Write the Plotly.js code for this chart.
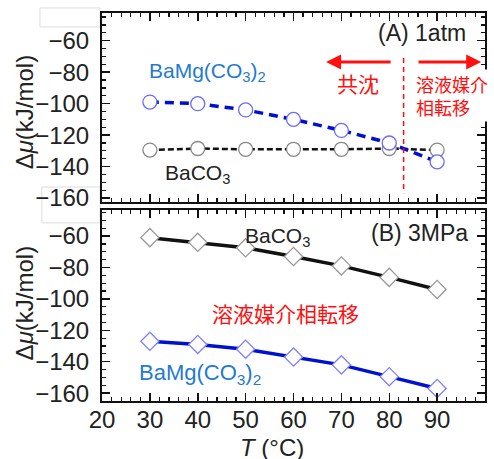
<!DOCTYPE html>
<html>
<head>
<meta charset="utf-8">
<script src="https://cdn.plot.ly/plotly-3.0.1.min.js"></script>
<style>html,body{margin:0;padding:0;background:#fff;}#chart{width:494px;height:459px;}</style>
</head>
<body>
<div id="chart"></div>
<script>
// Temperatures (°C)
var temps = [30, 40, 50, 60, 70, 80, 90];
// (A) 1 atm
var atmBaMg = [-99, -100, -104, -110, -117, -125, -137];
var atmBaCO3 = [-129.5, -128.5, -129, -129, -129, -128.5, -129.5];
// (B) 3 MPa
var mpaBaCO3 = [-61, -64, -67.5, -73, -79, -86.3, -94];
var mpaBaMg = [-127, -129, -132, -137, -142, -149.5, -157];
// Labels
var xTickVals = [20, 30, 40, 50, 60, 70, 80, 90, 100];
var yTickVals = [-60, -80, -100, -120, -140, -160];
var boundaryT = 83;

var FONT = "Liberation Sans, Arial, sans-serif";
var JFONT = "Noto Sans CJK JP, sans-serif";

var traces = [
  {x: temps, y: atmBaCO3, xaxis: 'x2', yaxis: 'y2', mode: 'lines+markers',
   line: {color: '#111', width: 2.5, dash: '6px,3px'},
   marker: {symbol: 'circle', size: 14, color: '#fff', line: {color: '#888', width: 1.3}}},
  {x: temps, y: atmBaMg, xaxis: 'x2', yaxis: 'y2', mode: 'lines+markers',
   line: {color: '#0010d0', width: 3.5, dash: '9px,6px'},
   marker: {symbol: 'circle', size: 14, color: '#fff', line: {color: '#6a6aff', width: 1.3}}},
  {x: temps, y: mpaBaCO3, xaxis: 'x', yaxis: 'y', mode: 'lines+markers',
   line: {color: '#111', width: 3.5},
   marker: {symbol: 'diamond', size: 14, color: '#fff', line: {color: '#999', width: 1.3}}},
  {x: temps, y: mpaBaMg, xaxis: 'x', yaxis: 'y', mode: 'lines+markers',
   line: {color: '#0010d0', width: 3.5},
   marker: {symbol: 'diamond', size: 14, color: '#fff', line: {color: '#8080ff', width: 1.3}}}
];

function xAx(extra) {
  var a = {range: [20, 100], tickvals: xTickVals, ticks: 'inside', ticklen: 8, tickwidth: 1.5,
    tickcolor: '#111', showline: true, linecolor: '#111', linewidth: 2, mirror: 'ticks',
    showgrid: false, zeroline: false,
    minor: {dtick: 2, tick0: 0, ticks: 'inside', ticklen: 4, tickwidth: 1.2, tickcolor: '#111', showgrid: false},
    tickfont: {family: FONT, size: 24, color: '#222'}, ticklabelstandoff: -4};
  for (var k in extra) a[k] = extra[k];
  return a;
}
function yAx(extra) {
  var a = {tickvals: yTickVals, ticks: 'inside', ticklen: 8, tickwidth: 1.5,
    tickcolor: '#111', showline: true, linecolor: '#111', linewidth: 2, mirror: 'ticks',
    showgrid: false, zeroline: false,
    minor: {dtick: 5, tick0: 0, ticks: 'inside', ticklen: 4, tickwidth: 1.2, tickcolor: '#111', showgrid: false},
    tickfont: {family: FONT, size: 24, color: '#222'}, ticklabelstandoff: 6};
  for (var k in extra) a[k] = extra[k];
  return a;
}

var red = '#ff1010';
var blueTxt = '#1f7bd0';

var layout = {
  width: 494, height: 459,
  margin: {l: 102, r: 9, t: 13, b: 58},
  paper_bgcolor: '#fff', plot_bgcolor: '#fff',
  showlegend: false,
  font: {family: FONT, color: '#222'},
  xaxis: xAx({anchor: 'y'}),
  xaxis2: xAx({anchor: 'y2', matches: 'x', showticklabels: false}),
  yaxis: yAx({domain: [0, 0.4923], range: [-165, -43.4], anchor: 'x'}),
  yaxis2: yAx({domain: [0.5129, 1], range: [-162.5, -42.4], anchor: 'x2'}),
  shapes: [
    {type: 'line', xref: 'x2', yref: 'y2', x0: boundaryT, x1: boundaryT, y0: -71, y1: -157,
     line: {color: red, width: 1.5, dash: '5px,4px'}},
    {type: 'rect', xref: 'paper', yref: 'paper', x0: -0.162, x1: -0.005, y0: 0.964, y1: 1.013,
     line: {color: '#dcdcdc', width: 1}, layer: 'below'},
    {type: 'rect', xref: 'paper', yref: 'paper', x0: -0.157, x1: -0.005, y0: 0.459, y1: 0.5515,
     line: {color: '#dcdcdc', width: 1}, layer: 'below'}
  ],
  annotations: [
    {xref: 'paper', yref: 'paper', x: -0.2, y: 0.745, xanchor: 'center', yanchor: 'middle',
     text: 'Δ<i>μ</i>(kJ/mol)', textangle: -90,
     showarrow: false, font: {family: FONT, size: 24, color: '#222'}},
    {xref: 'paper', yref: 'paper', x: -0.2, y: 0.2526, xanchor: 'center', yanchor: 'middle',
     text: 'Δ<i>μ</i>(kJ/mol)', textangle: -90,
     showarrow: false, font: {family: FONT, size: 24, color: '#222'}},
    {xref: 'paper', yref: 'paper', x: 0.444, y: -0.119, xanchor: 'center', yanchor: 'middle',
     text: '<i>T</i> (°C)', showarrow: false, font: {family: FONT, size: 24, color: '#222'}},
    {xref: 'x2', yref: 'y2', x: 29.4, y: -79.9, xanchor: 'left', yanchor: 'middle', text: 'BaMg(CO<sub>3</sub>)<sub>2</sub>',
     showarrow: false, font: {family: FONT, size: 21, color: blueTxt}},
    {xref: 'x2', yref: 'y2', x: 32.7, y: -144.6, xanchor: 'left', yanchor: 'middle', text: 'BaCO<sub>3</sub>',
     showarrow: false, font: {family: FONT, size: 21, color: '#222'}},
    {xref: 'x2', yref: 'y2', x: 96.4, y: -55.1, xanchor: 'right', yanchor: 'middle', text: '(A) 1atm',
     showarrow: false, font: {family: FONT, size: 23, color: '#222'}},
    {xref: 'x2', yref: 'y2', x: 73.5, y: -86.8, text: '共沈',
     showarrow: false, font: {family: JFONT, size: 21, color: red}},
    {xref: 'x2', yref: 'y2', x: 85.2, y: -94.8, xanchor: 'left', align: 'left', text: '溶液媒介<br>相転移',
     showarrow: false, bgcolor: '#fff', font: {family: JFONT, size: 18, color: red}},
    {xref: 'x2', yref: 'y2', axref: 'x2', ayref: 'y2', x: 66.8, y: -73.5, ax: 80.6, ay: -73.5, text: '',
     showarrow: true, arrowhead: 2, arrowsize: 1, arrowwidth: 3, arrowcolor: red},
    {xref: 'x2', yref: 'y2', axref: 'x2', ayref: 'y2', x: 99.2, y: -73.5, ax: 85.8, ay: -73.5, text: '',
     showarrow: true, arrowhead: 2, arrowsize: 1, arrowwidth: 3, arrowcolor: red},
    {xref: 'x', yref: 'y', x: 49.5, y: -60.5, xanchor: 'left', yanchor: 'middle', text: 'BaCO<sub>3</sub>',
     showarrow: false, font: {family: FONT, size: 21, color: '#222'}},
    {xref: 'x', yref: 'y', x: 96.9, y: -58.0, xanchor: 'right', yanchor: 'middle', text: '(B) 3MPa',
     showarrow: false, font: {family: FONT, size: 23, color: '#222'}},
    {xref: 'x', yref: 'y', x: 58.4, y: -109.0, text: '溶液媒介相転移',
     showarrow: false, font: {family: JFONT, size: 21, color: red}},
    {xref: 'x', yref: 'y', x: 27.3, y: -148, xanchor: 'left', yanchor: 'middle', text: 'BaMg(CO<sub>3</sub>)<sub>2</sub>',
     showarrow: false, font: {family: FONT, size: 22, color: blueTxt}}
  ]
};

Plotly.newPlot('chart', traces, layout, {staticPlot: true, displayModeBar: false});
</script>
</body>
</html>
